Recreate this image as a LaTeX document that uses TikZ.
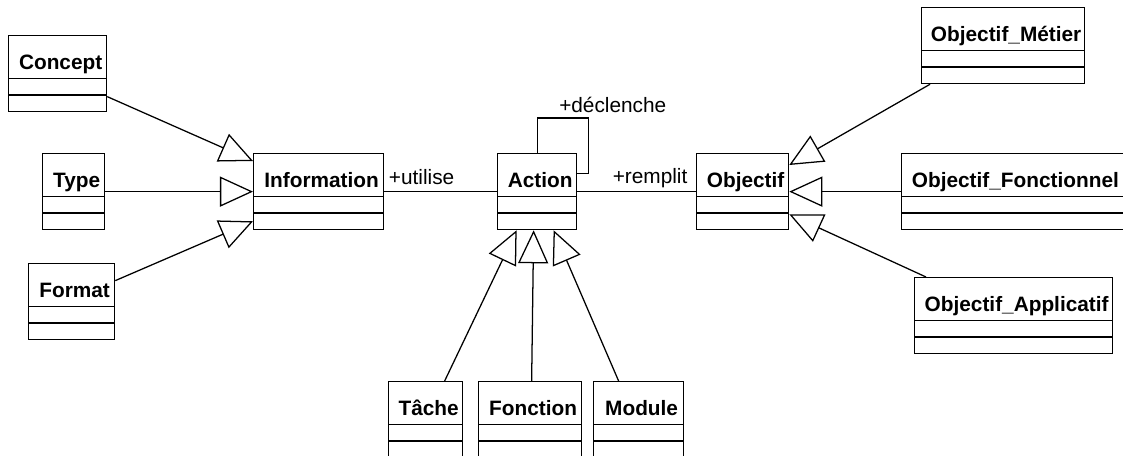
\documentclass[tikz,border=0pt]{standalone}
\usepackage{fontspec}
\setmainfont{Liberation Sans}
\usetikzlibrary{arrows.meta}

\begin{document}
\begin{tikzpicture}[x=0.025cm,y=-0.025cm]

\def\px{0.025cm}
\def\boxh{76}
\def\headh{43.5}
\def\sep{60}

\tikzset{
        every node/.style={font=\fontsize{14.8}{17}\selectfont},
        every path/.style={line width=0.9pt},
        classbox/.style={draw,anchor=north west,minimum height=\boxh*\px,inner sep=0pt},
        classname/.style={font=\fontsize{14.8}{17}\selectfont\bfseries,anchor=base,inner sep=0pt},
        inherit/.style={-{Triangle[open,length=0.825cm,width=0.75cm]}},
        role/.style={inner sep=0pt}
}

\useasboundingbox (0,0) rectangle (1123,455);

% the classes: name / text / left / top / width
\foreach \n/\l/\x/\y/\w in {concept/Concept/8/35/98,
        type/Type/42/153/62,
        format/Format/28/263/86,
        information/Information/253/153/130,
        action/Action/497/153/79,
        objectif/Objectif/696/153/92,
        metier/Objectif\_Métier/921/7/163,
        fonctionnel/Objectif\_Fonctionnel/901/153/221.5,
        applicatif/Objectif\_Applicatif/914/277/198,
        tache/Tâche/388/381/74,
        fonction/Fonction/478/381/103,
        module/Module/593/381/90} {
     \node[classbox,minimum width=\w*\px] (\n) at (\x,\y) {};
     \node[classname] at ([xshift=3*\px,yshift=-34*\px]\n.north) {\l};
     \draw ([yshift=-\headh*\px]\n.north west) -- ([yshift=-\headh*\px]\n.north east);
     \draw ([yshift=-\sep*\px]\n.north west) -- ([yshift=-\sep*\px]\n.north east);
}

% Information
\draw[inherit] ([yshift=-23*\px]concept.east) -- ([yshift=-8*\px]information.north west);
\draw[inherit] (type.east) -- (information.west);
\draw[inherit] ([yshift=21*\px]format.east) -- ([yshift=9*\px]information.south west);

% associations
\draw (information.east) -- (action.west)
      node[role,pos=0,anchor=base west,xshift=4*\px,yshift=7*\px] {+utilise};
\draw (action.east) -- (objectif.west)
      node[role,pos=1,anchor=base east,xshift=-8*\px,yshift=8*\px] {+remplit};
\draw (action.north) |- ([xshift=11*\px,yshift=35*\px]action.north east)
      |- ([yshift=18*\px]action.east);
\node[role,anchor=base west] (declenche) at ([xshift=21.5*\px,yshift=41*\px]action.north) {+déclenche};

% Objectif
\draw[inherit] ([xshift=9*\px]metier.south west) -- ([yshift=-12*\px]objectif.north east);
\draw[inherit] (fonctionnel.west) -- (objectif.east);
\draw[inherit] ([xshift=12*\px]applicatif.north west) -- ([yshift=16*\px]objectif.south east);

% Action
\draw[inherit] ([xshift=19*\px]tache.north) -- ([xshift=-20.5*\px]action.south);
\draw[inherit] ([xshift=1.5*\px]fonction.north) -- ([xshift=-3.5*\px]action.south);
\draw[inherit] ([xshift=-20*\px]module.north) -- ([xshift=16.5*\px]action.south);

\end{tikzpicture}
\end{document}
